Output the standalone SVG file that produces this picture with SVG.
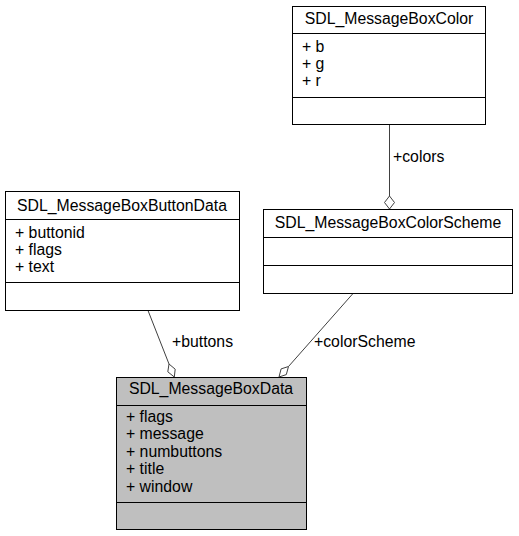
<svg xmlns="http://www.w3.org/2000/svg" width="519" height="536" viewBox="0 0 519 536">
<style>
text{font-family:"Liberation Sans",Arial,sans-serif;font-size:15.8px;fill:#000}
.t{text-anchor:middle}
.box{fill:#fff;stroke:#000;stroke-width:1}
.main{fill:#bfbfbf;stroke:#000;stroke-width:1}
.div{stroke:#000;stroke-width:1;fill:none}
.edge{stroke:#404040;stroke-width:1;fill:none}
.dia{fill:#fff;stroke:#404040;stroke-width:1}
</style>
<rect width="519" height="536" fill="#fff"/>
<g id="connectors">
  <g id="e-colors">
    <line class="edge" x1="389.5" y1="124.5" x2="389.5" y2="196"/>
    <polygon class="dia" points="389.5,209 384.5,202.5 389.5,196 394.5,202.5"/>
    <text x="393" y="162">+colors</text>
  </g>
  <g id="e-buttons">
    <line class="edge" x1="148" y1="310.5" x2="169" y2="364"/>
    <polygon class="dia" points="174.3,377 175.2,369.2 169,364 167.8,371.8"/>
    <text x="172" y="347">+buttons</text>
  </g>
  <g id="e-colorScheme">
    <line class="edge" x1="353" y1="293.5" x2="288.5" y2="366.5"/>
    <polygon class="dia" points="279,377 286.3,374.6 288.5,366.5 281.1,368.9"/>
    <text x="314" y="347">+colorScheme</text>
  </g>
</g>
<g id="SDL_MessageBoxColor">
  <rect class="box" x="292.5" y="6.5" width="193" height="118"/>
  <line class="div" x1="292.5" y1="33.5" x2="485.5" y2="33.5"/>
  <line class="div" x1="292.5" y1="97.5" x2="485.5" y2="97.5"/>
  <text class="t" x="389" y="24">SDL_MessageBoxColor</text>
  <text x="302" y="51.5">+ b</text>
  <text x="302" y="68.8">+ g</text>
  <text x="302" y="86">+ r</text>
</g>
<g id="SDL_MessageBoxColorScheme">
  <rect class="box" x="263.5" y="209.5" width="249" height="84"/>
  <line class="div" x1="263.5" y1="237.5" x2="512.5" y2="237.5"/>
  <line class="div" x1="263.5" y1="265.5" x2="512.5" y2="265.5"/>
  <text class="t" x="388" y="228">SDL_MessageBoxColorScheme</text>
</g>
<g id="SDL_MessageBoxButtonData">
  <rect class="box" x="5.5" y="191.5" width="234" height="119"/>
  <line class="div" x1="5.5" y1="219.5" x2="239.5" y2="219.5"/>
  <line class="div" x1="5.5" y1="282.5" x2="239.5" y2="282.5"/>
  <text class="t" x="122" y="211">SDL_MessageBoxButtonData</text>
  <text x="15" y="238.3">+ buttonid</text>
  <text x="15" y="255">+ flags</text>
  <text x="15" y="271.7">+ text</text>
</g>
<g id="SDL_MessageBoxData">
  <rect class="main" x="116.5" y="377.5" width="190" height="152"/>
  <line class="div" x1="116.5" y1="405.5" x2="306.5" y2="405.5"/>
  <line class="div" x1="116.5" y1="502.5" x2="306.5" y2="502.5"/>
  <text class="t" x="211" y="394.3">SDL_MessageBoxData</text>
  <text x="126" y="421.7">+ flags</text>
  <text x="126" y="439.2">+ message</text>
  <text x="126" y="456.7">+ numbuttons</text>
  <text x="126" y="474.2">+ title</text>
  <text x="126" y="491.7">+ window</text>
</g>
</svg>
